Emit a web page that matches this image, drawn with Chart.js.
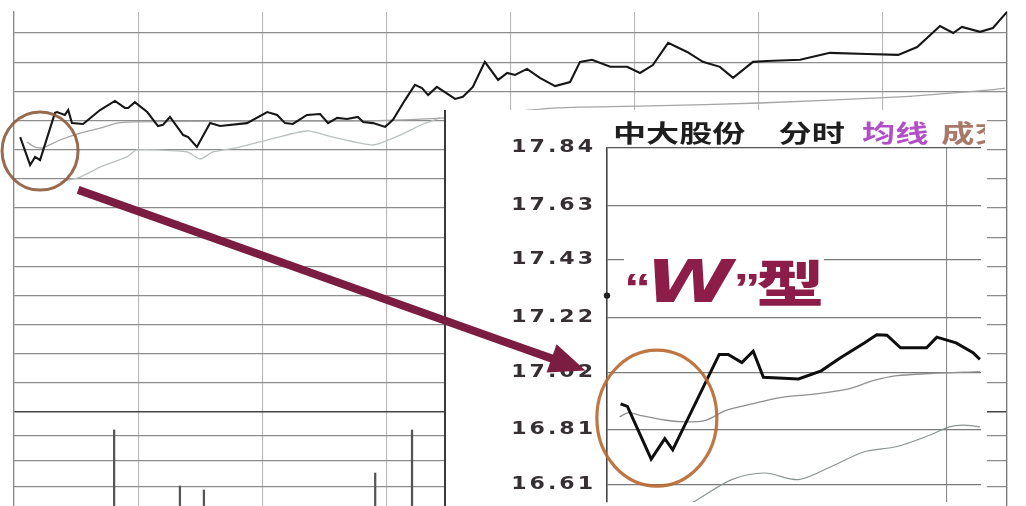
<!DOCTYPE html>
<html><head><meta charset="utf-8">
<script src="https://cdn.jsdelivr.net/npm/chart.js@4.4.1/dist/chart.umd.min.js"></script>
<style>
html,body{margin:0;padding:0;background:#fff;width:1026px;height:506px;overflow:hidden;position:relative;}
canvas{position:absolute;}
#main{left:0;top:0;}
#panel{position:absolute;left:444px;top:110px;width:541px;height:396px;background:#fff;border-left:2px solid #3a3a3a;}
#inset{left:507px;top:130px;}
#title{position:absolute;left:613px;top:116px;width:372px;height:32px;overflow:hidden;}
#tt{display:inline-block;white-space:nowrap;font:700 24px "Noto Sans CJK SC";color:#1e1e1e;transform:scaleX(1.38);transform-origin:0 0;line-height:32px;}
#tt .ma{color:#b24ec6;margin-left:7px;}
#tt .vl{color:#a87868;margin-left:4px;}
#wt{position:absolute;left:624px;top:244px;white-space:nowrap;color:#8c1c48;background:#fff;transform:scaleX(1.35);transform-origin:0 0;line-height:60px;height:62px;}
#wt .q{font:700 40px "Liberation Sans";}
#wt .w{font:italic 700 59px "DejaVu Sans";margin-left:-4px;}
#wt .x{font:900 50px "Noto Sans CJK SC";margin-left:-3px;}
#overlay{position:absolute;left:0;top:0;}
</style>
</head>
<body>
<canvas id="main" width="1026" height="506"></canvas>
<div id="panel"></div>
<canvas id="inset" width="478" height="376"></canvas>
<div id="title"><span id="tt">中大股份　分时 <span class="ma">均线</span> <span class="vl">成交</span></span></div>
<div id="wt"><span class="q">“</span><span class="w">W</span><span class="q">”</span><span class="x">型</span></div>
<svg id="overlay" width="1026" height="506" xmlns="http://www.w3.org/2000/svg"></svg>
<script>
// ---------- main (full-day) chart data ----------
const mainMinutes = [1.5,3.9,5.1,6.3,9.9,10.4,12.3,13.1,14.0,16.7,20.8,24.4,26.8,27.6,29.2,32.2,34.8,36.0,37.7,40.9,42.1,44.2,47.4,49.8,56.3,61.2,63.6,65.5,67.4,70.8,74.0,75.9,78.1,80.5,83.1,84.4,86.8,89.7,91.6,94.5,96.9,98.6,100.1,102.2,106.6,108.5,110.9,113.8,117.0,119.2,121.1,124.0,127.1,130.8,134.4,136.8,139.7,144.1,148.2,151.3,154.4,158.1,162.7,166.5,170.6,173.8,178.6,182.0,190.0,197.2,206.2,213.7,218.3,223.8,227.0,229.1,233.5,236.6,238.3,240.0];
const mainPrices = [16.943,16.847,16.875,16.864,17.026,17.029,17.019,17.036,16.991,16.988,17.036,17.067,17.043,17.043,17.063,17.029,16.981,16.985,17.012,16.950,16.943,16.909,16.991,16.981,16.991,17.029,17.019,16.991,16.988,17.019,17.022,16.991,17.009,17.005,17.012,16.995,16.991,16.978,17.002,17.070,17.122,17.111,17.087,17.115,17.074,17.081,17.115,17.201,17.139,17.163,17.156,17.177,17.146,17.118,17.132,17.201,17.208,17.184,17.184,17.163,17.190,17.266,17.235,17.201,17.184,17.146,17.201,17.204,17.208,17.232,17.228,17.225,17.252,17.324,17.300,17.321,17.304,17.317,17.345,17.372];
const mainAvgMinutes = [3.1,5.1,7.0,11.1,16.0,20.8,24.9,28.8,57.0,81.2,104.2,131.2,153.7,180.3,214.1,235.9,239.5];
const mainAvgPrices = [16.926,16.909,16.906,16.933,16.957,16.974,16.991,16.995,16.998,16.998,17.009,17.043,17.050,17.060,17.081,17.105,17.111];
const mainLowMinutes = [11.1,16.0,20.8,27.3,29.7,41.8,45.0,48.1,54.6,61.2,70.8,77.1,86.8,93.3,98.9,103.0];
const mainLowPrices = [16.789,16.806,16.840,16.875,16.899,16.892,16.868,16.892,16.909,16.933,16.964,16.943,16.916,16.950,16.988,17.009];
const volMinutes = [24.2,40.1,45.9,87.3,96.2];
const volValues = [760,200,160,330,760];
const mainGridTicks = [16.0,16.1,16.2,16.3,16.4,16.5,16.6,16.7,16.8,16.9,17.0,17.1,17.2,17.3];
const volGridTicks = [190,450,700];
const mainYMin = 15.678, mainYMax = 17.372, volMax = 4940;

// ---------- inset (zoomed opening) chart data ----------
const insetMinutes = [1.2,1.8,3.9,5.1,5.8,9.9,10.7,11.9,12.9,13.8,16.9,18.9,20.6,22.7,23.8,24.7,25.9,28.2,29.1,30.8,32.3,32.9];
const insetPrices = [16.904,16.895,16.702,16.777,16.736,17.085,17.085,17.055,17.097,17.001,16.995,17.025,17.073,17.127,17.157,17.155,17.109,17.109,17.148,17.127,17.091,17.067];
const insetAvgMinutes = [1.1,1.9,2.9,5.2,7.0,8.7,10.5,12.8,15.4,18.3,21.2,23.5,25.6,28.5,32.9];
const insetAvgPrices = [16.856,16.872,16.862,16.844,16.838,16.844,16.880,16.904,16.928,16.940,16.958,16.989,17.007,17.015,17.022];
const insetLowMinutes = [6.5,7.8,11.0,13.9,16.9,19.8,22.7,25.6,28.5,30.2,31.4,32.9];
const insetLowPrices = [16.52,16.549,16.627,16.651,16.627,16.675,16.729,16.748,16.790,16.820,16.826,16.820];
const insetTicks = [16.61,16.81,17.02,17.22,17.43,17.63,17.84];
const insetYMin = 16.545, insetYMax = 17.84, insetXMax = 33, insetXGrid = [30];
const insetDot = [{x:0, y:17.30}];

// annotation anchors (data coordinates)
const mainCircle = {x:6.3, y:16.895};
const insetCircle = {x:4.4, y:16.852};
const arrowStart = {x:15.5, y:16.762};
const arrowTip = {x:-1.9, y:17.026};

const zip = (xs, ys) => xs.map((x,i)=>({x, y:ys[i]}));
const noPlugins = {legend:{display:false}, tooltip:{enabled:false}, title:{display:false}};

const mainChart = new Chart(document.getElementById('main'), {
  type:'line',
  data:{datasets:[
    {label:'价格', data:zip(mainMinutes, mainPrices), borderColor:'#161616', borderWidth:2.1, pointRadius:0, tension:0, yAxisID:'y'},
    {label:'均价', data:zip(mainAvgMinutes, mainAvgPrices), borderColor:'#a5a5a5', borderWidth:1.3, pointRadius:0, tension:0.2, yAxisID:'y'},
    {label:'均线', data:zip(mainLowMinutes, mainLowPrices), borderColor:'#b9c0c0', borderWidth:1.3, pointRadius:0, tension:0.2, yAxisID:'y'},
    {type:'bar', label:'成交量', data:zip(volMinutes, volValues), backgroundColor:'#555', barThickness:1.6, yAxisID:'yv'}
  ]},
  options:{
    responsive:false, animation:false, devicePixelRatio:1,
    layout:{padding:{left:14,right:19,top:12,bottom:0}},
    plugins:noPlugins,
    scales:{
      x:{type:'linear', min:0, max:240, offset:false,
         ticks:{display:false, stepSize:30}, grid:{offset:false, color:'#b8b8b8', lineWidth:1.1, drawTicks:false},
         border:{display:false}, afterFit:s=>{s.height=0;}},
      y:{type:'linear', position:'left', min:mainYMin, max:mainYMax,
         afterBuildTicks:s=>{s.ticks = mainGridTicks.map(v=>({value:v}));},
         ticks:{display:false},
         grid:{drawTicks:false, color:c=>c.index===0?'#444':'#8c8c8c', lineWidth:c=>c.index===0?1.6:1.2},
         border:{display:true, color:'#8a8a8a', width:1.3}, afterFit:s=>{s.width=0;}},
      yv:{type:'linear', position:'right', min:0, max:volMax,
         afterBuildTicks:s=>{s.ticks = volGridTicks.map(v=>({value:v}));},
         ticks:{display:false},
         grid:{drawTicks:false, color:'#8c8c8c', lineWidth:1.2},
         border:{display:true, color:'#777', width:1.3}, afterFit:s=>{s.width=0;}}
    }
  }
});

const insetChart = new Chart(document.getElementById('inset'), {
  type:'line',
  data:{datasets:[
    {label:'价格', data:zip(insetMinutes, insetPrices), borderColor:'#0e0e0e', borderWidth:3, pointRadius:0, tension:0},
    {label:'均价', data:zip(insetAvgMinutes, insetAvgPrices), borderColor:'#8f8f8f', borderWidth:1.3, pointRadius:0, tension:0.3},
    {label:'均线', data:zip(insetLowMinutes, insetLowPrices), borderColor:'#8a9494', borderWidth:1.2, pointRadius:0, tension:0.3},
    {label:'点', data:insetDot, showLine:false, pointRadius:3.2, pointBackgroundColor:'#222', pointBorderWidth:0, clip:false}
  ]},
  options:{
    responsive:false, animation:false, devicePixelRatio:1,
    layout:{padding:{left:0,right:0,top:18,bottom:0}},
    plugins:noPlugins,
    scales:{
      x:{type:'linear', min:0, max:insetXMax, offset:false,
         afterBuildTicks:s=>{s.ticks = insetXGrid.map(v=>({value:v}));},
         ticks:{display:false}, grid:{offset:false, color:'#8a8a8a', lineWidth:1.1, drawTicks:false},
         border:{display:false}, afterFit:s=>{s.height=0; s.paddingLeft=0; s.paddingRight=0;}},
      y:{type:'linear', min:insetYMin, max:insetYMax,
         afterBuildTicks:s=>{s.ticks = insetTicks.map(v=>({value:v}));},
         ticks:{color:'#352f33', padding:11, font:{family:'"DejaVu Sans"', size:17, weight:'bold'}, callback:v=>Number(v).toFixed(2)},
         grid:{drawTicks:false, color:c=>c.index===insetTicks.length-1?'#555':'#7a7a7a', lineWidth:1.3},
         border:{display:true, color:'#444', width:1.6},
         afterFit:s=>{s.width=100; s.paddingTop=0; s.paddingBottom=0;}}
    }
  },
  plugins:[{id:'labelStretch', beforeDraw(c){
    c.ctx.letterSpacing='2.3px';
    const s=c.scales.y;
    if(!s._stretched){
      const orig=s.drawLabels.bind(s);
      s.drawLabels=function(area){
        const ctx=this.ctx, X=this.right-this.options.ticks.padding;
        ctx.save(); ctx.translate(X,0); ctx.scale(1.3,1); ctx.translate(-X,0);
        orig(area); ctx.restore();
      };
      s._stretched=true;
    }
  }}]
});

// ---------- annotations (circles + arrow), positioned from the scales ----------
const NS='http://www.w3.org/2000/svg';
const svg=document.getElementById('overlay');
function px(chart, p){
  const cv=chart.canvas;
  return [chart.scales.x.getPixelForValue(p.x)+cv.offsetLeft, chart.scales.y.getPixelForValue(p.y)+cv.offsetTop];
}
function el(tag, attrs){const e=document.createElementNS(NS,tag);for(const k in attrs)e.setAttribute(k,attrs[k]);svg.appendChild(e);return e;}
const [mcx,mcy]=px(mainChart, mainCircle);
el('ellipse',{cx:mcx,cy:mcy,rx:38,ry:39,fill:'none',stroke:'#8d5a3b','stroke-width':3,opacity:0.9});
const [icx,icy]=px(insetChart, insetCircle);
el('ellipse',{cx:icx,cy:icy,rx:60,ry:68,fill:'none',stroke:'#b8672f','stroke-width':3.2,opacity:0.9});
const [ax,ay]=px(mainChart, arrowStart);
const [tx,ty]=px(insetChart, arrowTip);
const dx=tx-ax, dy=ty-ay, L=Math.hypot(dx,dy), ux=dx/L, uy=dy/L, nx=-uy, ny=ux;
const headLen=36, headW=15;
const bx=tx-ux*headLen, by=ty-uy*headLen;
el('line',{x1:ax,y1:ay,x2:bx+ux*2,y2:by+uy*2,stroke:'#7b1d40','stroke-width':8,'stroke-linecap':'butt'});
el('polygon',{points:`${tx},${ty} ${bx+nx*headW},${by+ny*headW} ${bx-nx*headW},${by-ny*headW}`,fill:'#7b1d40'});
</script>
</body></html>
